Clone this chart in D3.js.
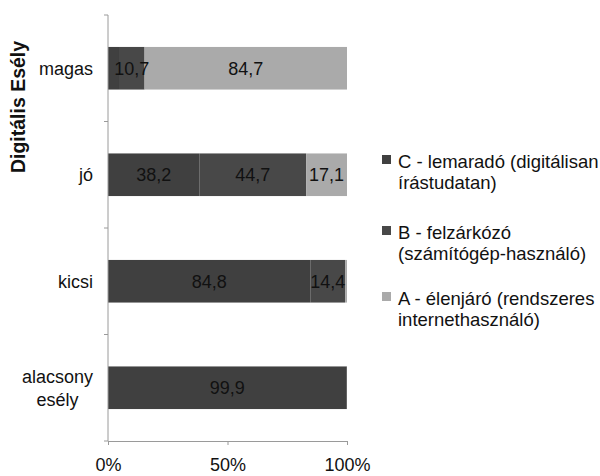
<!DOCTYPE html>
<html>
<head>
<meta charset="utf-8">
<script src="https://cdn.jsdelivr.net/npm/d3@7/dist/d3.min.js"></script>
<style>
  html, body { margin: 0; padding: 0; background: #ffffff; }
  svg { display: block; font-family: "Liberation Sans", Arial, sans-serif; }
</style>
</head>
<body>
<svg id="chart" width="600" height="476"></svg>
<script>
// ---- data ----
const categories = ["magas", "jó", "kicsi", "alacsony esély"];
const categoryLines = [["magas"], ["jó"], ["kicsi"], ["alacsony", "esély"]];
const seriesNames = ["C - lemaradó (digitálisan írástudatan)", "B - felzárkózó (számítógép-használó)", "A - élenjáró (rendszeres internethasználó)"];
const legendLines = [["C - lemaradó (digitálisan", "írástudatan)"], ["B - felzárkózó", "(számítógép-használó)"], ["A - élenjáró (rendszeres", "internethasználó)"]];
const seriesC = [4.6, 38.2, 84.8, 99.9];
const seriesB = [10.7, 44.7, 14.4, 0.1];
const seriesA = [84.7, 17.1, 0.8, 0.0];
const xTicks = [0, 0.5, 1];
const axisTitle = "Digitális Esély";

const seriesColors = ["#404040", "#484848", "#aaaaaa"];

// ---- layout ----
const svg = d3.select("#chart");
const plotLeft = 108, plotRight = 347, plotTop = 15, plotBottom = 441;

const x = d3.scaleLinear().domain([0, 100]).range([plotLeft, plotRight]);
const y = d3.scaleBand().domain(categories).range([plotTop, plotBottom]).paddingInner(0.6).paddingOuter(0.3);

const rows = categories.map((c, i) => ({ cat: c, C: seriesC[i], B: seriesB[i], A: seriesA[i] }));
const keys = ["C", "B", "A"];
const stacked = d3.stack().keys(keys)(rows);

// bars
const g = svg.append("g");
stacked.forEach((layer, li) => {
  g.selectAll(null).data(layer).enter().append("rect")
    .attr("x", d => x(d[0]))
    .attr("y", d => y(d.data.cat))
    .attr("width", d => Math.max(0, x(d[1]) - x(d[0])))
    .attr("height", y.bandwidth())
    .attr("fill", seriesColors[li]);
});

// data labels
stacked.forEach((layer, li) => {
  g.selectAll(null).data(layer.filter(d => (d[1] - d[0]) >= 5)).enter().append("text")
    .attr("x", d => (x(d[0]) + x(d[1])) / 2)
    .attr("y", d => y(d.data.cat) + y.bandwidth() / 2)
    .attr("dy", "0.36em")
    .attr("text-anchor", "middle")
    .attr("font-size", 18)
    .attr("fill", "#111")
    .text(d => d3.format(".1f")(d[1] - d[0]).replace(".", ","));
});

// y axis line with boundary ticks
const axisColor = "#9a9a9a";
svg.append("line").attr("x1", plotLeft).attr("x2", plotLeft).attr("y1", plotTop).attr("y2", plotBottom)
  .attr("stroke", axisColor).attr("stroke-width", 1);
const boundaries = categories.map(c => y(c) - y.step() * y.paddingInner() / 2).concat([plotBottom]);
svg.selectAll(null).data(boundaries).enter().append("line")
  .attr("x1", plotLeft - 4).attr("x2", plotLeft).attr("y1", d => d).attr("y2", d => d)
  .attr("stroke", axisColor);

// x axis
const xAxis = d3.axisBottom(d3.scaleLinear().domain([0, 1]).range([plotLeft, plotRight]))
  .tickValues(xTicks).tickFormat(d3.format(".0%")).tickSize(4).tickPadding(13);
const xg = svg.append("g").attr("transform", `translate(0,${plotBottom})`).call(xAxis);
xg.select(".domain").attr("stroke", axisColor);
xg.selectAll(".tick line").attr("stroke", axisColor);
xg.selectAll(".tick text").attr("font-size", 18).attr("fill", "#111")
  .attr("font-family", "'Liberation Sans', Arial, sans-serif");

// category labels
categoryLines.forEach((lines, i) => {
  const cy = y(categories[i]) + y.bandwidth() / 2;
  const t = svg.append("text").attr("font-size", 18).attr("fill", "#111");
  const n = lines.length;
  lines.forEach((ln, j) => {
    t.append("tspan").attr("y", cy + (j - (n - 1) / 2) * 23).attr("dy", "0.36em").text(ln);
  });
  if (n === 1) {
    t.attr("text-anchor", "end").selectAll("tspan").attr("x", 93);
  } else {
    let maxW = 0;
    t.selectAll("tspan").each(function () { maxW = Math.max(maxW, this.getComputedTextLength()); });
    t.attr("text-anchor", "middle").selectAll("tspan").attr("x", 93 - maxW / 2);
  }
});

// axis title
svg.append("text")
  .attr("transform", "translate(18,107) rotate(-90)")
  .attr("text-anchor", "middle")
  .attr("dy", "0.36em")
  .attr("font-size", 19.5)
  .attr("font-weight", "bold")
  .attr("fill", "#111")
  .text(axisTitle);

// legend
const legendY = [161, 232, 298];
legendLines.forEach((lines, i) => {
  const ly = legendY[i];
  svg.append("rect").attr("x", 382).attr("y", ly - 6).attr("width", 9).attr("height", 9)
    .attr("fill", seriesColors[i]);
  const t = svg.append("text").attr("font-size", 18.5).attr("fill", "#111");
  lines.forEach((ln, j) => {
    t.append("tspan").attr("x", 398).attr("y", ly + j * 21).attr("dy", "0.36em").text(ln);
  });
});
</script>
</body>
</html>
